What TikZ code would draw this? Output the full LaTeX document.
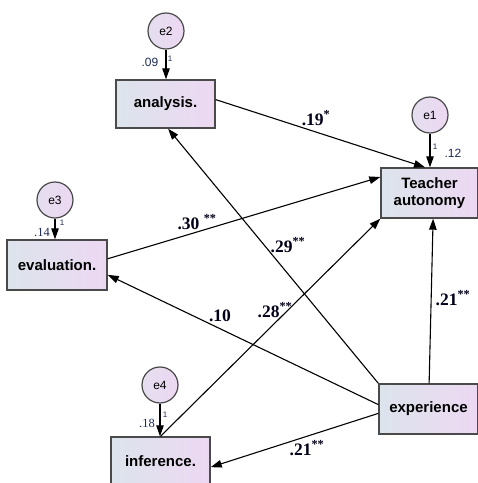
\documentclass[tikz,border=0pt]{standalone}
\usepackage{fontspec}
\setmainfont{Liberation Serif}
\setsansfont{Liberation Sans}
\usetikzlibrary{arrows.meta}
\definecolor{boxleft}{HTML}{DCE4EC}
\definecolor{boxright}{HTML}{EDD8F2}
\definecolor{edge}{HTML}{4A4A4A}
\definecolor{est}{HTML}{1E2A55}
\begin{document}
\begin{tikzpicture}[x=1pt,y=1pt,
    varbox/.style={draw=edge,line width=1.4pt,left color=boxleft,right color=boxright,
      minimum width=99pt,minimum height=48pt,inner sep=0pt,align=center,
      font=\sffamily\bfseries\fontsize{15}{17}\selectfont},
    errnode/.style={circle,draw=edge,line width=1.2pt,left color=boxleft!50!boxright,right color=boxright,
      minimum size=36pt,inner sep=0pt,font=\sffamily\fontsize{12}{12}\selectfont},
    coef/.style={text=black!90!blue,font=\bfseries\fontsize{17.5}{18}\selectfont},
    errvar/.style={text=est,font=\fontsize{12.5}{12}\selectfont},
    onelab/.style={text=est,font=\sffamily\fontsize{8}{8}\selectfont}]
  \useasboundingbox (0,0) rectangle (478,483);
  \draw
    (165.5,379) node[varbox] (ana){analysis.}
    (429.5,290) node[varbox,minimum width=97pt,minimum height=50pt] (tea){Teacher\\autonomy}
    (57,218) node[varbox,minimum width=100pt,minimum height=50pt] (eva){evaluation.}
    (160.5,22) node[varbox] (inf){inference.}
    (428.5,74) node[varbox,minimum height=50pt] (exp){experience}
    (430,368) node[errnode] (e1){e1}
    (166,452) node[errnode] (e2){e2}
    (55,283) node[errnode] (e3){e3}
    (160,98) node[errnode] (e4){e4};
  \begin{scope}[-{Triangle[length=11pt,width=7.5pt]},line width=1.1pt]
    \draw (e1) to (e1 |- tea.north);
    \draw (e2) to (e2 |- ana.north);
    \draw (e3) to (e3 |- eva.north);
    \draw (e4) to (e4 |- inf.north);
    \draw (ana.5) to (tea.100);
    \draw (eva.7) to (tea.162);
    \draw (inf.north) to (tea.south west);
    \draw (exp) to (tea.-82);
    \draw (exp.north west) to (ana.-84);
    \draw (exp.175) to (eva.-11);
    \draw (exp.185) to (inf.-7);
  \end{scope}
  % estimates
  \node[coef] (c1) at (316,365) {.19\textsuperscript{*}};
  \node[coef] (c2) at (197,261) {.30 \textsuperscript{**}};
  \node[coef] (c3) at (288,238) {.29\textsuperscript{**}};
  \node[coef] (c4) at (275,173) {.28\textsuperscript{**}};
  \node[coef] (c5) at (220,167) {.10};
  \node[coef] (c6) at (453,185) {.21\textsuperscript{**}};
  \node[coef] (c7) at (307,35) {.21\textsuperscript{**}};
  % error variances
  \node[errvar,font=\sffamily\fontsize{12}{12}\selectfont] (v2) at (150,421) {.09};
  \node[onelab] (o2) at (170,424) {1};
  \node[errvar] (v3) at (42,251) {.14};
  \node[onelab] (o3) at (62,260) {1};
  \node[errvar,font=\sffamily\fontsize{12}{12}\selectfont] (v1) at (453,330) {.12};
  \node[onelab] (o1) at (435,336) {1};
  \node[errvar] (v4) at (147,60) {.18};
  \node[onelab] (o4) at (165,68) {1};
\end{tikzpicture}
\end{document}
